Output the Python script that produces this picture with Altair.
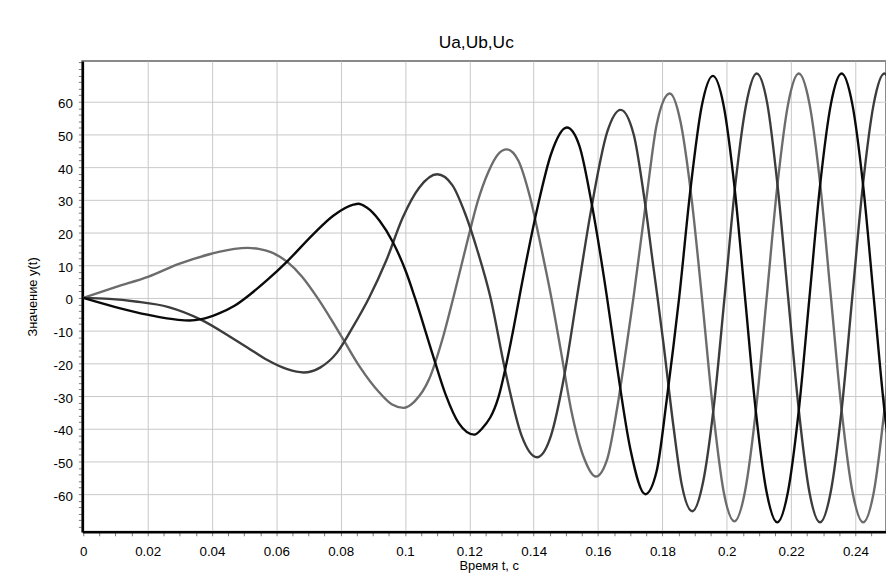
import altair as alt
import pandas as pd

FONT = "Liberation Sans"

# ---- values ----
t_a = [0, 0.0100, 0.0203, 0.0295, 0.0398, 0.0470, 0.0510, 0.0545, 0.0583, 0.0634,
       0.0680, 0.0728, 0.0770, 0.0808, 0.0859, 0.0921, 0.0960, 0.0995, 0.1030, 0.1075,
       0.1116, 0.1150, 0.1193, 0.1226, 0.1259, 0.1290, 0.1316, 0.1352, 0.1388, 0.1424,
       0.1455, 0.1485, 0.1516, 0.1557, 0.1593, 0.1629, 0.1659, 0.1690, 0.1710, 0.1752,
       0.1782, 0.1823, 0.1856, 0.1890, 0.1923, 0.1957, 0.1990, 0.2024, 0.2057, 0.2091,
       0.2124, 0.2157, 0.2191, 0.2224, 0.2257, 0.2291, 0.2324, 0.2357, 0.2391, 0.2424,
       0.2457, 0.2490, 0.2524]
u_a = [0, 3.3, 6.5, 10.3, 13.5, 15.0, 15.3, 15.0, 14.0, 11.0,
       6.5, 0, -6.5, -12.7, -21.0, -29.0, -32.6, -33.6, -31.6, -24.8,
       -12.7, 0, 17.0, 29.5, 38.5, 44.0, 45.4, 42.0, 31.0, 15.0,
       0, -16.5, -34.0, -49.1, -54.6, -49.1, -33.9, -13.7, 0, 31.7,
       52.9, 62.5, 54.0, 31.0, 0, -34.0, -59.0, -68.3, -59.0, -34.0,
       0, 34.0, 59.4, 68.6, 59.4, 34.3, 0, -34.3, -59.4, -68.6,
       -59.4, -34.3, 0.0]

t_b = [0, 0.0080, 0.0162, 0.0265, 0.0367, 0.0470, 0.0511, 0.0572, 0.0634, 0.0685,
       0.0736, 0.0788, 0.0839, 0.0888, 0.0942, 0.0993, 0.1044, 0.1100, 0.1147, 0.1188,
       0.1225, 0.1266, 0.1311, 0.1362, 0.1410, 0.1454, 0.1495, 0.1534, 0.1578, 0.1629,
       0.1670, 0.1711, 0.1742, 0.1772, 0.1785, 0.1803, 0.1834, 0.1860, 0.1893, 0.1926,
       0.1960, 0.1993, 0.2026, 0.2060, 0.2093, 0.2126, 0.2158, 0.2191, 0.2224, 0.2257,
       0.2290, 0.2323, 0.2357, 0.2390, 0.2423, 0.2457, 0.2490, 0.2523]
u_b = [0, -0.3, -1.1, -2.8, -6.7, -12.7, -15.2, -19.0, -21.8, -22.8,
       -21.3, -16.8, -8.7, 0, 11.5, 24.6, 33.7, 37.8, 34.5, 25.5,
       14.5, 0, -22.0, -42.0, -48.7, -42.0, -23.8, 0, 26.7, 50.9,
       57.5, 49.9, 31.7, 9.5, 0, -13.7, -39.0, -57.0, -65.2, -56.5,
       -33.0, 0, 34.0, 59.0, 68.6, 59.4, 34.3, 0, -34.3, -59.4,
       -68.6, -59.4, -34.3, 0, 34.3, 59.4, 68.6, 59.4]

t_c = [0, 0.0100, 0.0203, 0.0295, 0.0330, 0.0367, 0.0420, 0.0470, 0.0520, 0.0572,
       0.0634, 0.0716, 0.0778, 0.0839, 0.0855, 0.0880, 0.0921, 0.0962, 0.1003, 0.1031,
       0.1085, 0.1126, 0.1167, 0.1215, 0.1239, 0.1290, 0.1331, 0.1355, 0.1372, 0.1413,
       0.1454, 0.1503, 0.1542, 0.1578, 0.1618, 0.1628, 0.1659, 0.1700, 0.1747, 0.1782,
       0.1813, 0.1834, 0.1852, 0.1887, 0.1922, 0.1957, 0.1990, 0.2024, 0.2057, 0.2090,
       0.2124, 0.2157, 0.2190, 0.2224, 0.2257, 0.2290, 0.2324, 0.2357, 0.2390, 0.2424,
       0.2457, 0.2490, 0.2524]
u_c = [0, -2.8, -5.2, -6.7, -6.9, -6.5, -4.8, -2.4, 1.2, 5.5,
       11.2, 19.6, 25.2, 28.5, 28.8, 27.7, 23.6, 17.1, 8.0, 0,
       -17.0, -29.5, -38.3, -41.8, -40.0, -30.5, -12.5, 0, 8.8, 28.2,
       44.0, 52.1, 46.5, 30.0, 6.5, 0, -21.0, -46.0, -60.0, -53.0,
       -31.5, -15.0, 0, 33.0, 58.5, 67.9, 59.0, 34.0, 0, -34.3,
       -59.4, -68.6, -59.4, -34.3, 0, 34.3, 59.4, 68.6, 59.4, 34.3,
       0, -34.3, -59.4]

series_names = ["Ua", "Ub", "Uc"]
series_colors = ["#6c6c6c", "#3c3c3c", "#0a0a0a"]

x_ticks = [0, 0.005, 0.01, 0.015, 0.02, 0.025, 0.03, 0.035, 0.04, 0.045,
           0.05, 0.055, 0.06, 0.065, 0.07, 0.075, 0.08, 0.085, 0.09, 0.095,
           0.1, 0.105, 0.11, 0.115, 0.12, 0.125, 0.13, 0.135, 0.14, 0.145,
           0.15, 0.155, 0.16, 0.165, 0.17, 0.175, 0.18, 0.185, 0.19, 0.195,
           0.2, 0.205, 0.21, 0.215, 0.22, 0.225, 0.23, 0.235, 0.24, 0.245]
y_ticks = list(range(-70, 73, 2))

rows = []
for name, ts, vs in zip(series_names, [t_a, t_b, t_c], [u_a, u_b, u_c]):
    for t, v in zip(ts, vs):
        rows.append({"t": t, "v": v, "s": name})
df = pd.DataFrame(rows)

x_major = "abs(datum.value * 50 - round(datum.value * 50)) < 0.001"
y_major = "(datum.value % 10 == 0) && (abs(datum.value) <= 60)"

x_axis = alt.Axis(
    values=x_ticks,
    labelExpr=f"({x_major}) ? format(datum.value, '~g') : ''",
    title="Время t, c",
    titleFont=FONT, titleFontSize=13, titleFontWeight="normal", titleColor="black",
    titleX=410, titleY=38, titleAlign="center", titleBaseline="alphabetic",
    labelFont=FONT, labelFontSize=13.5, labelColor="black",
    labelBaseline="alphabetic", labelPadding=20, labelFlush=False, labelOverlap=False,
    tickSize=4, tickColor="#7a7a7a", tickWidth=1,
    domainColor="black", domainWidth=2.5,
    grid=True, gridColor="#c8c8c8", gridWidth=1,
    gridOpacity={"condition": {"test": x_major, "value": 1}, "value": 0},
)

y_axis = alt.Axis(
    values=y_ticks,
    labelExpr=f"({y_major}) ? ('' + datum.value) : ''",
    title="Значение y(t)",
    titleFont=FONT, titleFontSize=13, titleFontWeight="normal", titleColor="black",
    titleX=-50, titleY=237.5, titleAngle=270, titleAlign="center", titleBaseline="middle",
    labelFont=FONT, labelFontSize=13.5, labelColor="black",
    labelPadding=6, labelOffset=2, labelFlush=False, labelOverlap=False,
    tickSize=4, tickColor="#7a7a7a", tickWidth=1,
    domainColor="black", domainWidth=2.5,
    grid=True, gridColor="#c8c8c8", gridWidth=1,
    gridOpacity={"condition": {"test": y_major, "value": 1}, "value": 0},
)

chart = (
    alt.Chart(df)
    .mark_line(strokeWidth=2.4, interpolate="monotone", clip=True)
    .encode(
        x=alt.X("t:Q", scale=alt.Scale(domain=[-0.0003, 0.2495], nice=False, zero=False), axis=x_axis),
        y=alt.Y("v:Q", scale=alt.Scale(domain=[-71.5, 72.4], nice=False, zero=False), axis=y_axis),
        color=alt.Color("s:N", scale=alt.Scale(domain=series_names, range=series_colors), legend=None),
    )
    .properties(
        width=811,
        height=475,
        title=alt.TitleParams(
            "Ua,Ub,Uc", font=FONT, fontSize=17.5, fontWeight="normal", color="black",
            anchor="middle", frame="group", offset=12.4, baseline="alphabetic", dx=-8, dy=20,
        ),
        autosize=alt.AutoSizeParams(type="none"),
        padding={"left": 75, "top": 51, "right": 0, "bottom": 41},
    )
    .configure(background="white")
    .configure_view(stroke="#8a8a8a", strokeWidth=2)
)

chart.save("out.html", embed_options={"renderer": "svg", "actions": False})
